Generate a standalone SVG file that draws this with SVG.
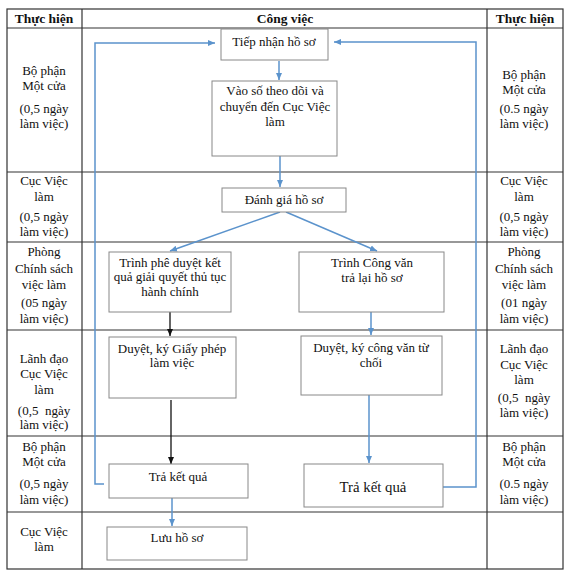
<svg xmlns="http://www.w3.org/2000/svg" width="575" height="580" viewBox="0 0 575 580">
<defs>
<marker id="ab" markerUnits="userSpaceOnUse" markerWidth="8" markerHeight="8" refX="7" refY="4" orient="auto"><path d="M0,1 L7,4 L0,7 Z" fill="#5b93cc"/></marker>
<marker id="ak" markerUnits="userSpaceOnUse" markerWidth="8" markerHeight="8" refX="7" refY="4" orient="auto"><path d="M0,1 L7,4 L0,7 Z" fill="#111"/></marker>
<style>
text{font-family:"Liberation Serif","Times New Roman",serif;font-size:13px;fill:#111;text-anchor:middle}
.h{font-weight:bold;font-size:13.5px}
.big{font-size:14.8px}
.grid{stroke:#333;stroke-width:1.2;fill:none}
.box{fill:#fff;stroke:#888;stroke-width:1}
.b{stroke:#5b93cc;stroke-width:1.5;fill:none}
.k{stroke:#111;stroke-width:1.3;fill:none}
</style>
</defs>
<rect width="575" height="580" fill="#fff"/>
<g id="table">
<rect class="grid" x="7" y="9" width="556" height="560"/>
<line class="grid" x1="82" y1="9" x2="82" y2="569"/>
<line class="grid" x1="487" y1="9" x2="487" y2="569"/>
<line class="grid" x1="7" y1="28" x2="563" y2="28"/>
<line class="grid" x1="7" y1="172" x2="563" y2="172"/>
<line class="grid" x1="7" y1="242" x2="563" y2="242"/>
<line class="grid" x1="7" y1="330" x2="563" y2="330"/>
<line class="grid" x1="7" y1="436" x2="563" y2="436"/>
<line class="grid" x1="7" y1="512" x2="563" y2="512"/>
<text class="h" x="44" y="23">Thực hiện</text>
<text class="h" x="285" y="23">Công việc</text>
<text class="h" x="525" y="23">Thực hiện</text>
</g>
<g id="left-labels">
<text x="44" y="75">Bộ phận</text><text x="44" y="90">Một cửa</text><text x="44" y="113">(0,5 ngày</text><text x="44" y="128">làm việc)</text>
<text x="44" y="185">Cục Việc</text><text x="44" y="201">làm</text><text x="44" y="221">(0,5 ngày</text><text x="44" y="236">làm việc)</text>
<text x="44" y="256">Phòng</text><text x="44" y="273">Chính sách</text><text x="44" y="289">việc làm</text><text x="44" y="307">(05 ngày</text><text x="44" y="323">làm việc)</text>
<text x="44" y="363">Lãnh đạo</text><text x="44" y="378">Cục Việc</text><text x="44" y="394">làm</text><text x="44" y="415" xml:space="preserve">(0,5  ngày</text><text x="44" y="429">làm việc)</text>
<text x="44" y="451">Bộ phận</text><text x="44" y="466">Một cửa</text><text x="44" y="488">(0,5 ngày</text><text x="44" y="504">làm việc)</text>
<text x="44" y="536">Cục Việc</text><text x="44" y="551">làm</text>
</g>
<g id="right-labels">
<text x="524" y="79">Bộ phận</text><text x="524" y="94">Một cửa</text><text x="524" y="113">(0.5 ngày</text><text x="524" y="128">làm việc)</text>
<text x="524" y="185">Cục Việc</text><text x="524" y="201">làm</text><text x="524" y="221">(0,5 ngày</text><text x="524" y="236">làm việc)</text>
<text x="524" y="256">Phòng</text><text x="524" y="273">Chính sách</text><text x="524" y="289">việc làm</text><text x="524" y="307">(01 ngày</text><text x="524" y="323">làm việc)</text>
<text x="524" y="353">Lãnh đạo</text><text x="524" y="369">Cục Việc</text><text x="524" y="384">làm</text><text x="524" y="402" xml:space="preserve">(0,5  ngày</text><text x="524" y="417">làm việc)</text>
<text x="524" y="451">Bộ phận</text><text x="524" y="466">Một cửa</text><text x="524" y="488">(0.5 ngày</text><text x="524" y="504">làm việc)</text>
</g>
<g id="connectors">
<line class="b" x1="279" y1="61" x2="279" y2="80" marker-end="url(#ab)"/>
<line class="b" x1="280" y1="156" x2="280" y2="187" marker-end="url(#ab)"/>
<line class="b" x1="280" y1="212" x2="170" y2="251" marker-end="url(#ab)"/>
<line class="b" x1="286" y1="212" x2="377" y2="251" marker-end="url(#ab)"/>
<line class="k" x1="170" y1="312" x2="170" y2="336" marker-end="url(#ak)"/>
<line class="b" x1="371" y1="312" x2="371" y2="335" marker-end="url(#ab)"/>
<line class="k" x1="171" y1="400" x2="171" y2="464" marker-end="url(#ak)"/>
<line class="b" x1="369" y1="395" x2="369" y2="463" marker-end="url(#ab)"/>
<line class="b" x1="172" y1="498" x2="172" y2="526" marker-end="url(#ab)"/>
<polyline class="b" points="104,484 95,484 95,43 215,43" marker-end="url(#ab)"/>
<polyline class="b" points="443,487 476,487 476,42 334,42" marker-end="url(#ab)"/>
</g>
<g id="n-tiep-nhan"><rect class="box" x="221" y="29" width="107" height="31"/><text x="274" y="46">Tiếp nhận hồ sơ</text></g>
<g id="n-vao-so"><rect class="box" x="212" y="81" width="125" height="75"/><text x="275" y="95">Vào số theo dõi và</text><text x="275" y="111">chuyển đến Cục Việc</text><text x="275" y="126">làm</text></g>
<g id="n-danh-gia"><rect class="box" x="222" y="188" width="124" height="24"/><text x="284" y="204">Đánh giá hồ sơ</text></g>
<g id="n-trinh-phe-duyet"><rect class="box" x="109" y="252" width="122" height="60"/><text x="170" y="267">Trình phê duyệt kết</text><text x="170" y="281">quả giải quyết thủ tục</text><text x="170" y="296">hành chính</text></g>
<g id="n-trinh-cong-van"><rect class="box" x="299" y="252" width="145" height="60"/><text x="372" y="267">Trình Công văn</text><text x="372" y="282">trả lại hồ sơ</text></g>
<g id="n-duyet-giay-phep"><rect class="box" x="109" y="337" width="127" height="61"/><text x="172" y="353">Duyệt, ký Giấy phép</text><text x="172" y="367">làm việc</text></g>
<g id="n-duyet-cong-van"><rect class="box" x="301" y="336" width="141" height="59"/><text x="371" y="352">Duyệt, ký công văn từ</text><text x="371" y="367">chối</text></g>
<g id="n-tra-ket-qua-1"><rect class="box" x="109" y="464" width="139" height="34"/><text x="178" y="481">Trả kết quả</text></g>
<g id="n-tra-ket-qua-2"><rect class="box" x="304" y="464" width="139" height="43"/><text class="big" x="373" y="492">Trả kết quả</text></g>
<g id="n-luu-ho-so"><rect class="box" x="107" y="527" width="140" height="33"/><text x="177" y="542">Lưu hồ sơ</text></g>
</svg>
